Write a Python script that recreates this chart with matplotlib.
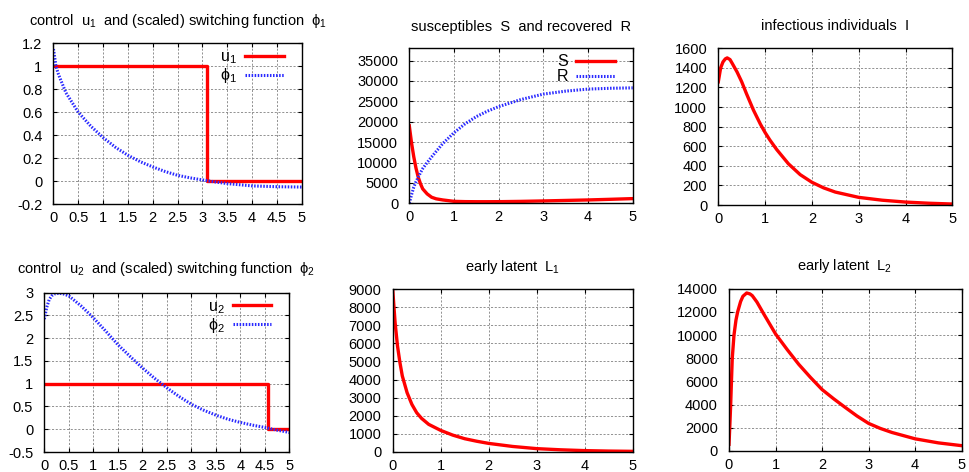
import numpy as np
import matplotlib
matplotlib.use("Agg")
import matplotlib.pyplot as plt

plt.rcParams['font.family'] = ['Liberation Sans', 'DejaVu Sans']
plt.rcParams['mathtext.fontset'] = 'custom'
plt.rcParams['mathtext.rm'] = 'Liberation Sans'
plt.rcParams['mathtext.it'] = 'Liberation Sans'
plt.rcParams['mathtext.default'] = 'regular'

# ---------------- data ----------------
u1_t = [0, 3.1, 3.1, 5]
u1_v = [1, 1, 0, 0]
phi1_t = [0, 0.05, 0.1, 0.25, 0.5, 0.75, 1.0, 1.25, 1.5, 1.75, 2.0, 2.25, 2.5, 2.75, 3.0, 3.25, 3.5, 4.0, 4.5, 5.0]
phi1_v = [1.15, 1.0, 0.93, 0.77, 0.60, 0.48, 0.38, 0.295, 0.226, 0.17, 0.125, 0.085, 0.052, 0.03, 0.012, -0.005, -0.02, -0.04, -0.047, -0.05]

u2_t = [0, 4.57, 4.57, 5]
u2_v = [1, 1, 0, 0]
phi2_t = [0, 0.05, 0.1, 0.15, 0.2, 0.3, 0.4, 0.5, 0.75, 1.0, 1.25, 1.5, 1.75, 2.0, 2.25, 2.5, 2.75, 3.0, 3.25, 3.5, 3.75, 4.0, 4.25, 4.5, 4.75, 5.0]
phi2_v = [2.42, 2.68, 2.85, 2.93, 2.97, 2.99, 2.97, 2.93, 2.71, 2.45, 2.16, 1.86, 1.6, 1.35, 1.12, 0.91, 0.72, 0.55, 0.42, 0.31, 0.22, 0.15, 0.09, 0.04, -0.02, -0.07]

sr_t = [0, 0.05, 0.1, 0.15, 0.2, 0.25, 0.3, 0.4, 0.5, 0.6, 0.75, 1.0, 1.25, 1.5, 1.75, 2.0, 2.5, 3.0, 3.5, 4.0, 4.5, 5.0]
S_v = [19000, 14800, 11400, 8600, 6400, 4800, 3540, 2300, 1480, 1100, 820, 480, 410, 390, 390, 400, 470, 580, 700, 820, 980, 1150]
R_v = [0, 2100, 3950, 5300, 6400, 7500, 8500, 10000, 11370, 12700, 14660, 17300, 19500, 21250, 22600, 23700, 25450, 26770, 27500, 28000, 28200, 28300]

I_t = [0, 0.05, 0.1, 0.15, 0.19, 0.25, 0.3, 0.4, 0.5, 0.6, 0.75, 0.9, 1.0, 1.1, 1.25, 1.5, 1.75, 2.0, 2.25, 2.5, 3.0, 3.5, 4.0, 4.5, 5.0]
I_v = [1258, 1400, 1461, 1492, 1502, 1485, 1444, 1359, 1258, 1139, 970, 825, 740, 665, 565, 420, 310, 232, 175, 132, 78, 49, 30, 18, 10]

L1_t = [0, 0.05, 0.1, 0.15, 0.2, 0.3, 0.4, 0.5, 0.6, 0.75, 1.0, 1.25, 1.5, 1.75, 2.0, 2.5, 3.0, 3.5, 4.0, 4.5, 5.0]
L1_v = [9000, 7150, 5860, 4950, 4200, 3270, 2620, 2160, 1850, 1515, 1180, 920, 720, 580, 460, 290, 170, 105, 60, 35, 20]

L2_t = [0, 0.02, 0.036, 0.05, 0.07, 0.107, 0.15, 0.186, 0.25, 0.3, 0.38, 0.45, 0.5, 0.6, 0.75, 1.0, 1.25, 1.5, 1.75, 2.0, 2.25, 2.5, 2.75, 3.0, 3.25, 3.5, 4.0, 4.5, 5.0]
L2_v = [575, 2400, 4000, 5700, 8000, 10000, 11300, 12000, 12900, 13350, 13630, 13550, 13400, 12850, 11800, 10100, 8750, 7470, 6350, 5300, 4500, 3750, 3020, 2380, 1950, 1600, 1050, 700, 460]

RED = '#ff0000'
BLUE = '#2a2aff'
FS = 10.5

fig = plt.figure(figsize=(9.70, 4.72), dpi=100)
W, H = 970.0, 472.0

def make_ax(l, r, t, b):
    ax = fig.add_axes([l / W, 1 - b / H, (r - l) / W, (b - t) / H])
    ax.grid(True, color='#808080', linestyle=(0, (2.5, 2)), linewidth=0.6)
    ax.tick_params(direction='in', top=True, right=True, labelsize=FS, length=3, width=0.8)
    ax.tick_params(axis='y', pad=8)
    ax.tick_params(axis='x', pad=5)
    for s in ax.spines.values():
        s.set_linewidth(1.0)
    return ax, (r - l), (b - t)

def red(ax, t, v, label=None):
    ax.plot(t, v, color=RED, lw=2.4, label=label, solid_joinstyle='round')

def blue(ax, t, v, label=None):
    ax.plot(t, v, color=BLUE, lw=2.2, linestyle=(0, (0.5, 0.5)), label=label)

def title(x, y, s):
    fig.text(x / W, 1 - y / H, s, ha='center', va='center', fontsize=FS)

def legend(ax, wpx, hpx):
    ax.legend(loc='upper right', bbox_to_anchor=(1 - 15 / wpx, 1 - 3 / hpx),
              frameon=False, markerfirst=False, fontsize=FS + 1,
              handlelength=2.4, handletextpad=0.5, labelspacing=0.0, borderaxespad=0.0,
              borderpad=0.2)

half_ticks = np.arange(0, 5.01, 0.5)
half_labels = ['0', '0.5', '1', '1.5', '2', '2.5', '3', '3.5', '4', '4.5', '5']

# Panel 1
ax, w, h = make_ax(53.5, 301.7, 43.3, 204.3)
red(ax, u1_t, u1_v, 'u$_1$')
blue(ax, phi1_t, phi1_v, 'ϕ$_1$')
ax.set_xlim(0, 5); ax.set_ylim(-0.2, 1.2)
ax.set_xticks(half_ticks); ax.set_xticklabels(half_labels)
ax.set_yticks([-0.2, 0, 0.2, 0.4, 0.6, 0.8, 1, 1.2])
ax.set_yticklabels(['-0.2', '0', '0.2', '0.4', '0.6', '0.8', '1', '1.2'])
legend(ax, w, h)
title(177.6, 21, 'control  u$_1$  and (scaled) switching function  ϕ$_1$')

# Panel 2
ax, w, h = make_ax(409.3, 632.7, 48.3, 203.3)
red(ax, sr_t, S_v, 'S')
blue(ax, sr_t, R_v, 'R')
ax.set_xlim(0, 5); ax.set_ylim(0, 38000)
ax.set_xticks(range(6)); ax.set_yticks(range(0, 35001, 5000))
legend(ax, w, h)
title(521, 27, 'susceptibles  S  and recovered  R')

# Panel 3
ax, w, h = make_ax(718.3, 952.3, 48.3, 205)
red(ax, I_t, I_v)
ax.set_xlim(0, 5); ax.set_ylim(0, 1600)
ax.set_xticks(range(6)); ax.set_yticks(range(0, 1601, 200))
title(835, 26, 'infectious individuals  I')

# Panel 4
ax, w, h = make_ax(44.3, 289.3, 292.7, 452)
red(ax, u2_t, u2_v, 'u$_2$')
blue(ax, phi2_t, phi2_v, 'ϕ$_2$')
ax.set_xlim(0, 5); ax.set_ylim(-0.5, 3)
ax.set_xticks(half_ticks); ax.set_xticklabels(half_labels)
ax.set_yticks([-0.5, 0, 0.5, 1, 1.5, 2, 2.5, 3])
ax.set_yticklabels(['-0.5', '0', '0.5', '1', '1.5', '2', '2.5', '3'])
legend(ax, w, h)
title(166, 269, 'control  u$_2$  and (scaled) switching function  ϕ$_2$')

# Panel 5
ax, w, h = make_ax(392.7, 632.7, 289.3, 451.7)
red(ax, L1_t, L1_v)
ax.set_xlim(0, 5); ax.set_ylim(0, 9000)
ax.set_xticks(range(6)); ax.set_yticks(range(0, 9001, 1000))
title(512.7, 266.7, 'early latent  L$_1$')

# Panel 6
ax, w, h = make_ax(729, 961.7, 288.7, 451)
red(ax, L2_t, L2_v)
ax.set_xlim(0, 5); ax.set_ylim(0, 14000)
ax.set_xticks(range(6)); ax.set_yticks(range(0, 14001, 2000))
title(845, 266, 'early latent  L$_2$')

fig.savefig('out.png', dpi=100)
